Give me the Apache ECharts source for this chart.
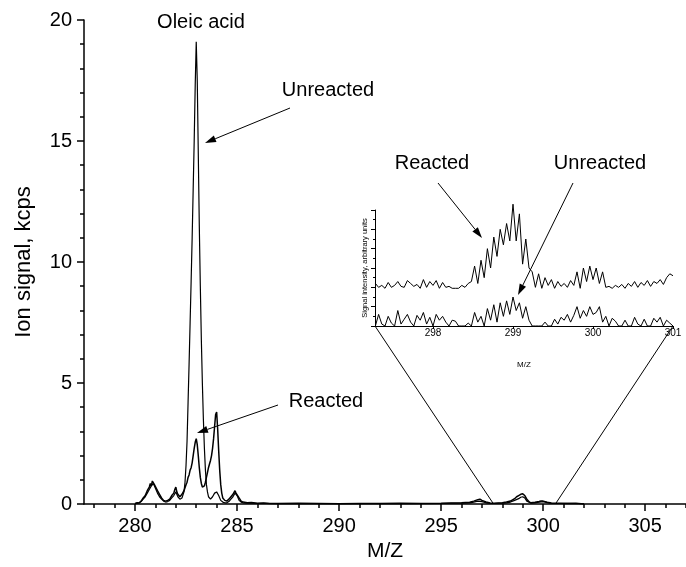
<!DOCTYPE html>
<html><head><meta charset="utf-8">
<script src="https://cdn.jsdelivr.net/npm/echarts@6/dist/echarts.min.js"></script>
<style>html,body{margin:0;padding:0;background:#fff}#c{width:686px;height:567px}</style>
</head><body><div id="c"></div>
<script>
const FONT = '"Liberation Sans", Arial, Helvetica, sans-serif';

// ---- axis ticks ----
const mainTickLabels = [280, 285, 290, 295, 300, 305];
const mainMinorTicks = [278, 279, 280, 281, 282, 283, 284, 285, 286, 287, 288, 289, 290, 291, 292, 293, 294, 295, 296, 297, 298, 299, 300, 301, 302, 303, 304, 305, 306, 307];
const insetTickLabels = [298, 299, 300, 301];

// ---- main spectrum: unreacted ----
const unreactedMz = [280.0, 280.1, 280.2, 280.3, 280.4, 280.5, 280.6, 280.7, 280.8, 280.9, 281.0, 281.1, 281.2, 281.3, 281.4, 281.5, 281.6, 281.7, 281.8, 281.9, 282.0, 282.1, 282.2, 282.3, 282.4, 282.45, 282.5, 282.55, 282.6, 282.65, 282.7, 282.75, 282.8, 282.85, 282.9, 282.95, 283.0, 283.05, 283.1, 283.15, 283.2, 283.25, 283.3, 283.35, 283.4, 283.45, 283.5, 283.55, 283.6, 283.7, 283.8, 283.9, 284.0, 284.1, 284.2, 284.3, 284.4, 284.5, 284.6, 284.7, 284.8, 284.9, 285.0, 285.1, 285.2, 285.3, 285.5, 285.7, 286.0, 286.3, 286.6, 287, 288, 289, 290, 291, 292, 293, 294, 295, 295.5, 296, 296.4, 296.6, 296.8, 297.0, 297.2, 297.4, 297.6, 297.8, 298.0, 298.2, 298.4, 298.6, 298.8, 298.9, 299.0, 299.1, 299.2, 299.4, 299.6, 299.8, 300.0, 300.2, 300.4, 300.8, 301.2, 301.6, 302.0];
const unreactedSignal = [0.02, 0.03, 0.05, 0.1, 0.2, 0.3, 0.45, 0.6, 0.75, 0.85, 0.65, 0.45, 0.3, 0.2, 0.12, 0.08, 0.1, 0.15, 0.25, 0.35, 0.5, 0.3, 0.2, 0.25, 0.5, 0.9, 1.6, 2.6, 4.2, 5.8, 7.5, 9.2, 11, 13, 15, 17.3, 19.1, 17.5, 14.5, 11.5, 9, 6.8, 5.0, 3.5, 2.3, 1.4, 0.8, 0.5, 0.3, 0.2, 0.3, 0.45, 0.5, 0.35, 0.15, 0.08, 0.05, 0.05, 0.1, 0.2, 0.3, 0.45, 0.35, 0.15, 0.08, 0.05, 0.03, 0.04, 0.02, 0.03, 0.02, 0.01, 0.02, 0.01, 0.02, 0.01, 0.02, 0.01, 0.02, 0.02, 0.03, 0.03, 0.05, 0.08, 0.12, 0.1, 0.05, 0.03, 0.02, 0.03, 0.03, 0.05, 0.08, 0.15, 0.22, 0.28, 0.3, 0.25, 0.12, 0.04, 0.05, 0.08, 0.1, 0.06, 0.03, 0.02, 0.03, 0.02, 0.0];

// ---- main spectrum: reacted ----
const reactedMz = [280.0, 280.1, 280.2, 280.3, 280.4, 280.5, 280.6, 280.7, 280.75, 280.8, 280.85, 280.9, 280.95, 281.0, 281.1, 281.2, 281.3, 281.4, 281.5, 281.6, 281.7, 281.8, 281.9, 281.95, 282.0, 282.05, 282.1, 282.2, 282.3, 282.4, 282.5, 282.55, 282.6, 282.65, 282.7, 282.75, 282.8, 282.85, 282.9, 282.95, 283.0, 283.05, 283.1, 283.15, 283.2, 283.25, 283.3, 283.35, 283.4, 283.45, 283.5, 283.55, 283.6, 283.65, 283.7, 283.75, 283.8, 283.85, 283.9, 283.95, 284.0, 284.05, 284.1, 284.15, 284.2, 284.25, 284.3, 284.4, 284.5, 284.6, 284.7, 284.8, 284.9, 284.95, 285.0, 285.1, 285.2, 285.3, 285.5, 285.7, 286.0, 286.3, 286.6, 287, 288, 289, 290, 291, 292, 293, 294, 295, 295.5, 296, 296.4, 296.6, 296.8, 296.9, 297.0, 297.2, 297.4, 297.6, 297.8, 298.0, 298.2, 298.4, 298.6, 298.7, 298.8, 298.9, 299.0, 299.1, 299.2, 299.3, 299.4, 299.6, 299.8, 299.9, 300.0, 300.2, 300.4, 300.8, 301.2, 301.6, 302.0];
const reactedSignal = [0.02, 0.05, 0.04, 0.12, 0.25, 0.35, 0.55, 0.7, 0.85, 0.75, 0.95, 1.0, 0.8, 0.85, 0.55, 0.4, 0.25, 0.15, 0.12, 0.15, 0.2, 0.35, 0.45, 0.6, 0.7, 0.5, 0.4, 0.3, 0.4, 0.55, 0.8, 0.9, 1.1, 1.2, 1.4, 1.5, 1.7, 2.0, 2.3, 2.55, 2.7, 2.45, 2.0, 1.5, 1.1, 0.85, 0.7, 0.65, 0.75, 0.9, 1.1, 1.3, 1.5, 1.65, 1.8, 2.0, 2.3, 2.7, 3.2, 3.7, 3.8, 3.1, 2.2, 1.4, 0.8, 0.45, 0.25, 0.15, 0.12, 0.2, 0.3, 0.4, 0.55, 0.45, 0.5, 0.25, 0.12, 0.08, 0.05, 0.06, 0.03, 0.04, 0.02, 0.02, 0.03, 0.02, 0.01, 0.02, 0.02, 0.03, 0.02, 0.03, 0.04, 0.05, 0.07, 0.12, 0.18, 0.2, 0.15, 0.08, 0.04, 0.03, 0.04, 0.05, 0.08, 0.12, 0.22, 0.3, 0.35, 0.4, 0.42, 0.35, 0.2, 0.1, 0.05, 0.07, 0.1, 0.12, 0.12, 0.07, 0.04, 0.03, 0.02, 0.03, 0.0];

// ---- inset (298-301 zoom, arbitrary units) ----
const insetMz = [297.28, 297.32, 297.36, 297.40, 297.44, 297.48, 297.52, 297.56, 297.60, 297.64, 297.68, 297.72, 297.76, 297.80, 297.84, 297.88, 297.92, 297.96, 298.00, 298.04, 298.08, 298.12, 298.16, 298.20, 298.24, 298.28, 298.32, 298.36, 298.40, 298.44, 298.48, 298.52, 298.56, 298.60, 298.64, 298.68, 298.72, 298.76, 298.80, 298.84, 298.88, 298.92, 298.96, 299.00, 299.04, 299.08, 299.12, 299.16, 299.20, 299.24, 299.28, 299.32, 299.36, 299.40, 299.44, 299.48, 299.52, 299.56, 299.60, 299.64, 299.68, 299.72, 299.76, 299.80, 299.84, 299.88, 299.92, 299.96, 300.00, 300.04, 300.08, 300.12, 300.16, 300.20, 300.24, 300.28, 300.32, 300.36, 300.40, 300.44, 300.48, 300.52, 300.56, 300.60, 300.64, 300.68, 300.72, 300.76, 300.80, 300.84, 300.88, 300.92, 300.96, 301.00];
const insetReacted = [2.2, 2.0, 2.1, 1.95, 2.25, 2.0, 2.1, 2.3, 2.05, 2.0, 2.35, 2.2, 2.05, 2.15, 1.95, 2.4, 2.0, 2.3, 2.1, 2.35, 1.95, 2.25, 2.0, 2.05, 1.95, 1.95, 1.95, 2.1, 2.0, 2.2, 2.3, 3.1, 2.2, 3.4, 2.5, 4.0, 3.0, 4.6, 3.6, 5.0, 4.2, 5.3, 4.4, 6.3, 4.4, 5.8, 3.2, 4.5, 3.0, 2.8, 2.0, 2.7, 1.95, 2.5, 2.1, 2.4, 1.95, 2.3, 2.05, 2.2, 2.0, 2.35, 2.1, 2.8, 1.95, 3.0, 2.3, 3.1, 2.4, 3.0, 2.2, 2.8, 2.0, 2.05, 1.95, 2.1, 2.0, 2.15, 1.95, 2.2, 2.05, 2.3, 2.0, 2.25, 2.1, 2.35, 2.05, 2.3, 2.2, 2.4, 2.15, 2.5, 2.7, 2.6];
const insetUnreacted = [0.0, 0.6, 0.1, 0.0, 0.5, 0.15, 0.0, 0.8, 0.1, 0.35, 0.6, 0.2, 0.0, 0.55, 0.3, 0.7, 0.1, 0.45, 0.0, 0.6, 0.3, 0.5, 0.2, 0.0, 0.3, 0.25, 0.0, 0.0, 0.0, 0.15, 0.0, 0.7, 0.2, 0.5, 0.0, 0.9, 0.3, 1.1, 0.2, 1.2, 0.5, 1.3, 0.6, 1.5, 0.8, 1.2, 0.4, 1.0, 0.3, 0.0, 0.0, 0.0, 0.0, 0.2, 0.0, 0.0, 0.35, 0.1, 0.45, 0.3, 0.6, 0.2, 0.55, 1.0, 0.4, 0.8, 0.5, 1.0, 0.6, 0.7, 1.0, 0.2, 0.5, 0.0, 0.4, 0.25, 0.0, 0.0, 0.3, 0.0, 0.0, 0.45, 0.1, 0.0, 0.35, 0.0, 0.0, 0.4, 0.2, 0.45, 0.0, 0.3, 0.15, 0.0];

// m/z where the zoom lines meet the main axis
const zoomFoot = [297.57, 300.6];

const chart = echarts.init(document.getElementById('c'), null, {renderer: 'canvas'});
const pairs = (xs, ys) => xs.map((x, i) => [x, ys[i]]);
const black = '#000';

chart.setOption({
  animation: false,
  backgroundColor: '#fff',
  textStyle: {fontFamily: FONT},
  grid: [
    {left: 84, top: 20, width: 602, height: 484, containLabel: false, outerBoundsMode: 'none'},
    {left: 375, top: 210, width: 298, height: 116, containLabel: false, outerBoundsMode: 'none'}
  ],
  xAxis: [
    {gridIndex: 0, type: 'value', min: 277.5, max: 307, position: 'bottom',
     axisLine: {lineStyle: {color: black, width: 1.5}},
     axisTick: {customValues: mainTickLabels, length: 7, lineStyle: {color: black, width: 1.5}},
     axisLabel: {customValues: mainTickLabels, fontSize: 20, color: black, margin: 12, fontFamily: FONT},
     splitLine: {show: false},
     name: 'M/Z', nameLocation: 'middle', nameGap: 36,
     nameTextStyle: {fontSize: 21, color: black, fontFamily: FONT}},
    {gridIndex: 0, type: 'value', min: 277.5, max: 307, position: 'bottom',
     axisLine: {show: false},
     axisTick: {customValues: mainMinorTicks, length: 4, lineStyle: {color: black, width: 1.5}},
     axisLabel: {show: false}, splitLine: {show: false}},
    {gridIndex: 1, type: 'value', min: 297.275, max: 301, position: 'bottom',
     axisLine: {lineStyle: {color: black, width: 1}},
     axisTick: {customValues: insetTickLabels, length: 3, lineStyle: {color: black, width: 1}},
     axisLabel: {customValues: insetTickLabels, fontSize: 10, color: black, margin: 2, fontFamily: FONT},
     splitLine: {show: false},
     name: 'M/Z', nameLocation: 'middle', nameGap: 35,
     nameTextStyle: {fontSize: 8, color: black, fontFamily: FONT}}
  ],
  yAxis: [
    {gridIndex: 0, type: 'value', min: 0, max: 20, interval: 5,
     axisLine: {show: true, lineStyle: {color: black, width: 1.5}},
     axisTick: {show: true, length: 7, lineStyle: {color: black, width: 1.5}},
     minorTick: {show: true, splitNumber: 5, length: 4, lineStyle: {color: black, width: 1.5}},
     axisLabel: {fontSize: 20, color: black, margin: 12, fontFamily: FONT},
     splitLine: {show: false},
     name: 'Ion signal, kcps', nameLocation: 'middle', nameGap: 49,
     nameTextStyle: {fontSize: 22, color: black, fontFamily: FONT}},
    {gridIndex: 1, type: 'value', min: 0, max: 6, interval: 1,
     axisLine: {show: true, lineStyle: {color: black, width: 1}},
     axisTick: {show: true, length: 4, lineStyle: {color: black, width: 1}},
     minorTick: {show: true, splitNumber: 2, length: 2, lineStyle: {color: black, width: 1}},
     axisLabel: {show: false},
     splitLine: {show: false},
     name: 'Signal intensity, arbitrary units', nameLocation: 'middle', nameGap: 6,
     nameTextStyle: {fontSize: 7.5, color: black, fontFamily: FONT}}
  ],
  series: [
    {name: 'Unreacted', type: 'line', xAxisIndex: 0, yAxisIndex: 0, data: pairs(unreactedMz, unreactedSignal),
     showSymbol: false, lineStyle: {color: black, width: 1.2}, z: 3},
    {name: 'Reacted', type: 'line', xAxisIndex: 0, yAxisIndex: 0, data: pairs(reactedMz, reactedSignal),
     showSymbol: false, lineStyle: {color: black, width: 1.5}, z: 3},
    {name: 'Reacted (inset)', type: 'line', xAxisIndex: 2, yAxisIndex: 1, data: pairs(insetMz, insetReacted),
     showSymbol: false, clip: false, lineStyle: {color: black, width: 1}, z: 3},
    {name: 'Unreacted (inset)', type: 'line', xAxisIndex: 2, yAxisIndex: 1, data: pairs(insetMz, insetUnreacted),
     showSymbol: false, clip: false, lineStyle: {color: black, width: 1}, z: 3}
  ]
});

function arrow(x1, y1, x2, y2) {
  const L = 11, W = 3.5;
  const dx = x2 - x1, dy = y2 - y1, len = Math.hypot(dx, dy);
  const ux = dx / len, uy = dy / len;
  const bx = x2 - ux * L, by = y2 - uy * L;
  return [
    {type: 'line', shape: {x1: x1, y1: y1, x2: bx, y2: by}, style: {stroke: black, lineWidth: 1}, z: 10},
    {type: 'polygon', shape: {points: [[x2, y2], [bx - uy * W, by + ux * W], [bx + uy * W, by - ux * W]]}, style: {fill: black}, z: 10}
  ];
}
function label(text, x, y, size) {
  return {type: 'text', x: x, y: y, z: 10,
    style: {text: text, font: size + 'px ' + FONT, fill: black, align: 'center', verticalAlign: 'middle'}};
}

const insetL = chart.convertToPixel({xAxisIndex: 2, yAxisIndex: 1}, [297.275, 0]);
const insetR = chart.convertToPixel({xAxisIndex: 2, yAxisIndex: 1}, [301, 0]);
const footL = chart.convertToPixel({xAxisIndex: 0, yAxisIndex: 0}, [zoomFoot[0], 0]);
const footR = chart.convertToPixel({xAxisIndex: 0, yAxisIndex: 0}, [zoomFoot[1], 0]);

const g = [
  label('Oleic acid', 201, 22, 20),
  label('Unreacted', 328, 90, 20),
  label('Reacted', 326, 401, 20),
  label('Reacted', 432, 163, 20),
  label('Unreacted', 600, 163, 20),
  {type: 'line', shape: {x1: insetL[0], y1: insetL[1], x2: footL[0], y2: footL[1]}, style: {stroke: black, lineWidth: 1}, z: 9},
  {type: 'line', shape: {x1: insetR[0], y1: insetR[1], x2: footR[0], y2: footR[1]}, style: {stroke: black, lineWidth: 1}, z: 9}
].concat(arrow(290, 108, 205, 143), arrow(278, 405, 197, 433), arrow(438, 183, 482, 238), arrow(573, 183, 518, 295));

chart.setOption({graphic: g});
</script>
</body></html>
